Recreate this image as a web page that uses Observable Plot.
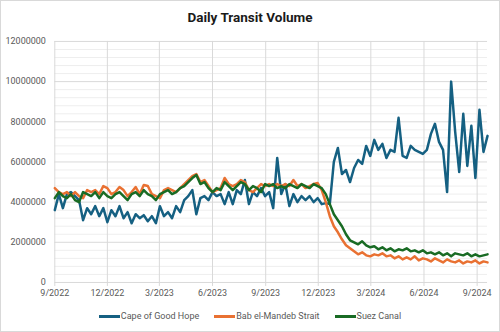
<!DOCTYPE html>
<html>
<head>
<meta charset="utf-8">
<script src="https://cdn.jsdelivr.net/npm/d3@7"></script>
<script src="https://cdn.jsdelivr.net/npm/@observablehq/plot@0.6"></script>
<style>
  html, body { margin: 0; padding: 0; background: #fff; }
  #chart {
    position: relative; width: 500px; height: 332px; box-sizing: border-box;
    border: 1px solid #d9d9d9; background: #fff; overflow: hidden;
    font-family: Roboto, "Liberation Sans", sans-serif;
  }
  #title {
    position: absolute; left: 0; right: 0; top: 8px; text-align: center;
    font-size: 13.5px; font-weight: 700; color: #1a1a1a;
  }
  #plot { position: absolute; left: -1px; top: 28px; }
  #legend {
    position: absolute; left: 0; right: 0; top: 310px; display: flex;
    justify-content: center; gap: 15px; font-size: 9px; color: #595959;
  }
  .item { display: flex; align-items: center; }
  .sw { display: inline-block; width: 21px; height: 3px; margin-right: 1px; }
</style>
</head>
<body>
<div id="chart">
  <div id="title">Daily Transit Volume</div>
  <div id="plot"></div>
  <div id="legend"></div>
</div>
<script>
// ---- Data (weekly readings, millions of transits) ----
const startDate = "2022-09-01";
const stepDays = 7;
const seriesNames = ["Cape of Good Hope", "Bab el-Mandeb Strait", "Suez Canal"];
const seriesColors = ["#156082", "#E97132", "#196B24"];

const capeOfGoodHope = [
  3.6, 4.4, 3.7, 4.4, 4.5, 4.3, 4.1, 3.1, 3.7, 3.4,
  3.8, 3.3, 3.7, 3.0, 3.6, 3.3, 3.8, 3.2, 3.5, 2.95,
  3.4, 3.2, 3.35, 3.05, 3.3, 2.95, 3.8, 3.3, 3.5, 3.2,
  3.8, 3.5, 4.1, 4.3, 4.6, 3.4, 4.2, 4.3, 4.1, 4.5,
  4.3, 4.4, 3.9, 4.5, 3.9, 4.6, 4.4, 5.1, 3.9, 4.5,
  4.3, 4.7, 4.3, 4.5, 3.7, 6.2, 4.4, 4.9, 3.8, 4.4,
  4.0, 4.3, 4.1, 4.3, 4.0, 4.2, 3.9, 3.95, 3.9, 6.0,
  6.7, 5.4, 5.6, 5.0, 5.7, 6.1, 5.9, 6.8, 6.3, 7.1,
  6.6, 6.9, 6.2, 6.6, 6.5, 8.2, 6.3, 6.2, 6.8, 6.6,
  6.5, 6.4, 6.6, 7.4, 7.9, 7.0, 6.6, 4.5, 10.0, 7.5,
  5.5, 8.4, 5.8, 7.8, 5.2, 8.6, 6.5, 7.3
];
const babElMandeb = [
  4.7, 4.5, 4.4, 4.5, 4.3, 4.5, 4.3, 4.2, 4.6, 4.5,
  4.6, 4.4, 4.8, 4.7, 4.4, 4.5, 4.75, 4.6, 4.3, 4.5,
  4.75, 4.4, 4.85, 4.8, 4.4, 4.3, 4.2, 4.6, 4.7, 4.6,
  4.5, 4.7, 4.9, 5.1, 5.3, 5.4, 5.0, 5.1, 4.8, 4.5,
  4.6, 4.7, 5.2, 4.9, 4.8, 4.9, 5.1, 5.0, 4.6, 4.5,
  4.7, 4.9, 4.8, 4.9, 4.8, 4.9, 4.8, 4.9, 4.8, 5.1,
  4.8, 4.9, 4.7, 4.8, 4.9, 4.95, 4.6, 4.0, 3.3, 2.8,
  2.5, 2.15, 1.85, 1.7, 1.55, 1.4, 1.5, 1.35, 1.3, 1.4,
  1.35, 1.45, 1.3, 1.35, 1.2, 1.3, 1.15, 1.25, 1.15, 1.3,
  1.1, 1.2, 1.15, 1.05, 1.2, 1.1, 1.0, 1.15, 1.05, 1.0,
  1.1, 0.95, 1.05, 1.0, 1.1, 0.95, 1.05, 1.0
];
const suezCanal = [
  4.2, 4.5, 4.3, 4.2, 4.4, 4.1, 4.0, 4.5, 4.4, 4.3,
  4.5, 4.2, 4.5, 4.3, 4.2, 4.4, 4.5, 4.3, 4.1, 4.4,
  4.5, 4.3, 4.6, 4.4, 4.3, 4.1, 4.4, 4.5, 4.6, 4.4,
  4.5, 4.7, 4.8, 5.0, 5.2, 5.35, 4.9, 5.0, 4.7, 4.5,
  4.7, 4.6, 5.0, 4.8, 4.6, 4.8, 5.0, 4.9, 4.6, 4.8,
  4.7, 4.5, 4.9, 4.8, 4.9, 4.7, 4.8, 4.7, 4.9, 4.8,
  4.7, 4.9, 4.8, 4.7, 4.9, 4.8, 4.7, 4.4, 3.9, 3.4,
  3.1, 2.8, 2.4, 2.1, 2.0, 1.9, 2.05, 1.85, 1.75, 1.8,
  1.65, 1.75, 1.6, 1.7, 1.55, 1.65, 1.6, 1.7, 1.55, 1.6,
  1.5, 1.6, 1.45, 1.5, 1.4, 1.5, 1.35, 1.45, 1.3, 1.45,
  1.4, 1.35, 1.45, 1.3, 1.4, 1.3, 1.35, 1.4
];
const unit = 1e6;

const yMajorTicks = [0, 2000000, 4000000, 6000000, 8000000, 10000000, 12000000];
const yMinorStep = 400000;
const xTickLabels = ["9/2022", "12/2022", "3/2023", "6/2023", "9/2023", "12/2023", "3/2024", "6/2024", "9/2024"];

// ---- Build table ----
const t0 = new Date(startDate + "T00:00:00Z");
const dateAt = i => new Date(t0.getTime() + i * stepDays * 864e5);
const allSeries = [capeOfGoodHope, babElMandeb, suezCanal];
const rows = [];
allSeries.forEach((vals, s) => vals.forEach((v, i) => rows.push({date: dateAt(i), value: v * unit, series: seriesNames[s]})));
const endDate = dateAt(capeOfGoodHope.length - 1);

const xTicks = xTickLabels.map(s => { const [m, y] = s.split("/").map(Number); return new Date(Date.UTC(y, m - 1, 1)); });
const yMinor = d3.range(0, 12000001, yMinorStep).filter(v => !yMajorTicks.includes(v));

const plot = Plot.plot({
  width: 501, height: 275,
  marginTop: 12, marginBottom: 21, marginLeft: 54.5, marginRight: 12,
  style: {fontFamily: "Roboto, 'Liberation Sans', sans-serif", fontSize: "9px", color: "#595959", background: "transparent"},
  x: {type: "utc", domain: [t0, endDate]},
  y: {domain: [0, 12000000]},
  color: {domain: seriesNames, range: seriesColors},
  marks: [
    Plot.ruleY(yMinor, {stroke: "#eeeeee", strokeWidth: 1}),
    Plot.ruleY(yMajorTicks, {stroke: "#d9d9d9", strokeWidth: 1}),
    Plot.ruleX(xTicks, {stroke: "#d9d9d9", strokeWidth: 1}),
    Plot.axisY({ticks: yMajorTicks, tickSize: 0, tickPadding: 9, tickFormat: d3.format("d"), label: null, fill: "#595959"}),
    Plot.axisX({ticks: xTicks, tickSize: 4, tickPadding: 3, stroke: "#d9d9d9", fill: "#595959", label: null,
      tickFormat: d => `${d.getUTCMonth() + 1}/${d.getUTCFullYear()}`}),
    Plot.lineY(rows, {x: "date", y: "value", z: "series", stroke: "series", strokeWidth: 2.5, strokeLinejoin: "round", strokeLinecap: "round"})
  ]
});
document.getElementById("plot").appendChild(plot);

const legend = document.getElementById("legend");
seriesNames.forEach((n, i) => {
  const it = document.createElement("div"); it.className = "item";
  const sw = document.createElement("span"); sw.className = "sw"; sw.style.background = seriesColors[i];
  it.appendChild(sw); it.appendChild(document.createTextNode(n));
  legend.appendChild(it);
});
</script>
</body>
</html>
